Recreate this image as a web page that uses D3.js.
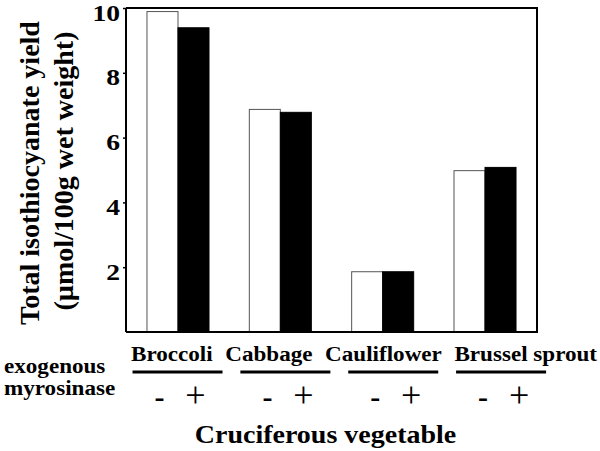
<!DOCTYPE html>
<html>
<head>
<meta charset="utf-8">
<script src="https://cdn.jsdelivr.net/npm/d3@7"></script>
</head>
<body style="margin:0;padding:0;background:#fff">
<svg id="chart" width="600" height="451" style="display:block;background:#fff"></svg>
<script>
// ---- data ----
const categories = ["Broccoli", "Cabbage", "Cauliflower", "Brussel sprout"];
const withoutMyrosinase = [9.89, 6.87, 1.86, 4.98];
const withMyrosinase = [9.39, 6.78, 1.86, 5.08];
const seriesKeys = ["-", "+"];
const yTicks = [2, 4, 6, 8, 10];
const yTitleLines = ["Total isothiocyanate yield", "(\u00b5mol/100g wet weight)"];
const rowLabels = ["exogenous", "myrosinase"];
const xTitle = "Cruciferous vegetable";

(function () {
const FONT = "Liberation Serif";
const svg = d3.select("#chart");
const pLeft = 126, pRight = 537, pTop = 8, pBottom = 332;

function txt(sel, size, weight) {
  return sel.style("font-family", FONT).style("font-weight", weight || "bold")
    .style("font-size", size + "px").attr("fill", "#000");
}

const x = d3.scaleBand().domain(categories).range([pLeft, pRight]).paddingInner(0.394).paddingOuter(0.205);
const xi = d3.scaleBand().domain(seriesKeys).range([0, x.bandwidth()]);
const y = d3.scaleLinear().domain([0, 10]).range([pBottom, pTop]);
// annotation row (underlines and -/+ signs)
const xa = d3.scaleBand().domain(categories).range([123.6, 555]);

const rows = categories.map((c, i) => ({ cat: c, vals: [
  { key: "-", v: withoutMyrosinase[i] },
  { key: "+", v: withMyrosinase[i] }
]}));

// bars
svg.append("g").selectAll("g.grp").data(rows).join("g").attr("class", "grp")
  .attr("transform", d => `translate(${x(d.cat)},0)`)
  .selectAll("rect").data(d => d.vals).join("rect")
  .attr("x", d => xi(d.key))
  .attr("width", xi.bandwidth())
  .attr("y", d => y(d.v))
  .attr("height", d => y(0) - y(d.v))
  .attr("fill", d => d.key === "-" ? "#fff" : "#000")
  .attr("stroke", d => d.key === "-" ? "#555" : "#000")
  .attr("stroke-width", 1);

// frame: top, right, bottom
svg.append("line").attr("x1", pLeft).attr("x2", pRight + 1).attr("y1", pTop).attr("y2", pTop)
  .attr("stroke", "#000").attr("stroke-width", 2);
svg.append("line").attr("x1", pRight).attr("x2", pRight).attr("y1", pTop).attr("y2", pBottom)
  .attr("stroke", "#000").attr("stroke-width", 2);
svg.append("line").attr("x1", pLeft).attr("x2", pRight + 1).attr("y1", pBottom).attr("y2", pBottom)
  .attr("stroke", "#000").attr("stroke-width", 2);

// y axis
const ya = svg.append("g").attr("transform", `translate(${pLeft},0)`)
  .call(d3.axisLeft(y).tickValues(yTicks).tickSize(3).tickSizeOuter(0));
ya.select(".domain").attr("stroke", "#000").attr("stroke-width", 2)
  .attr("d", `M0,${pTop}V${pBottom}`);
ya.selectAll(".tick line").attr("stroke", "#000").attr("stroke-width", 1.5);
txt(ya.selectAll(".tick text"), 23)
  .attr("x", null).attr("dy", null)
  .attr("text-anchor", "end")
  .attr("transform", "translate(-6,12) scale(1.2,1)");

// y title
yTitleLines.forEach((t, i) => {
  txt(svg.append("text"), 28)
    .attr("transform", `translate(${i === 0 ? 39 : 73},${i === 0 ? 173 : 171}) rotate(-90)`)
    .attr("text-anchor", "middle")
    .text(t);
});

// category labels as one flowing line
const catText = txt(svg.append("text"), 22)
  .attr("transform", "translate(131,361) scale(1.05,1)");
catText.selectAll("tspan").data(categories).join("tspan")
  .attr("dx", (d, i) => i === 0 ? 0 : 12)
  .text(d => d);

// underlines
svg.selectAll("line.ul").data(categories).join("line").attr("class", "ul")
  .attr("x1", d => xa(d) + xa.bandwidth() / 2 - 45)
  .attr("x2", d => xa(d) + xa.bandwidth() / 2 + 45)
  .attr("y1", 372).attr("y2", 372)
  .attr("stroke", "#000").attr("stroke-width", 3);

// signs
const signs = [];
categories.forEach(c => seriesKeys.forEach((k, j) => signs.push({ c, k, j })));
svg.selectAll("text.sign").data(signs).join("text").attr("class", "sign")
  .style("font-family", FONT)
  .style("font-size", d => d.k === "-" ? "30px" : "36px")
  .style("font-weight", d => d.k === "-" ? "bold" : "normal")
  .attr("fill", "#000")
  .attr("transform", d => `translate(${xa(d.c) + xa.bandwidth() / 2 + (d.j === 0 ? -18 : 18)},${d.k === "-" ? 407 : 407})`)
  .attr("text-anchor", "middle")
  .text(d => d.k);

// row labels
rowLabels.forEach((t, i) => {
  txt(svg.append("text"), 22)
    .attr("transform", `translate(4,${i === 0 ? 373 : 395}) scale(1.05,1)`)
    .text(t);
});

// x title
txt(svg.append("text"), 25)
  .attr("transform", "translate(325.5,443) scale(1.12,1)")
  .attr("text-anchor", "middle")
  .text(xTitle);
})();
</script>
</body>
</html>
